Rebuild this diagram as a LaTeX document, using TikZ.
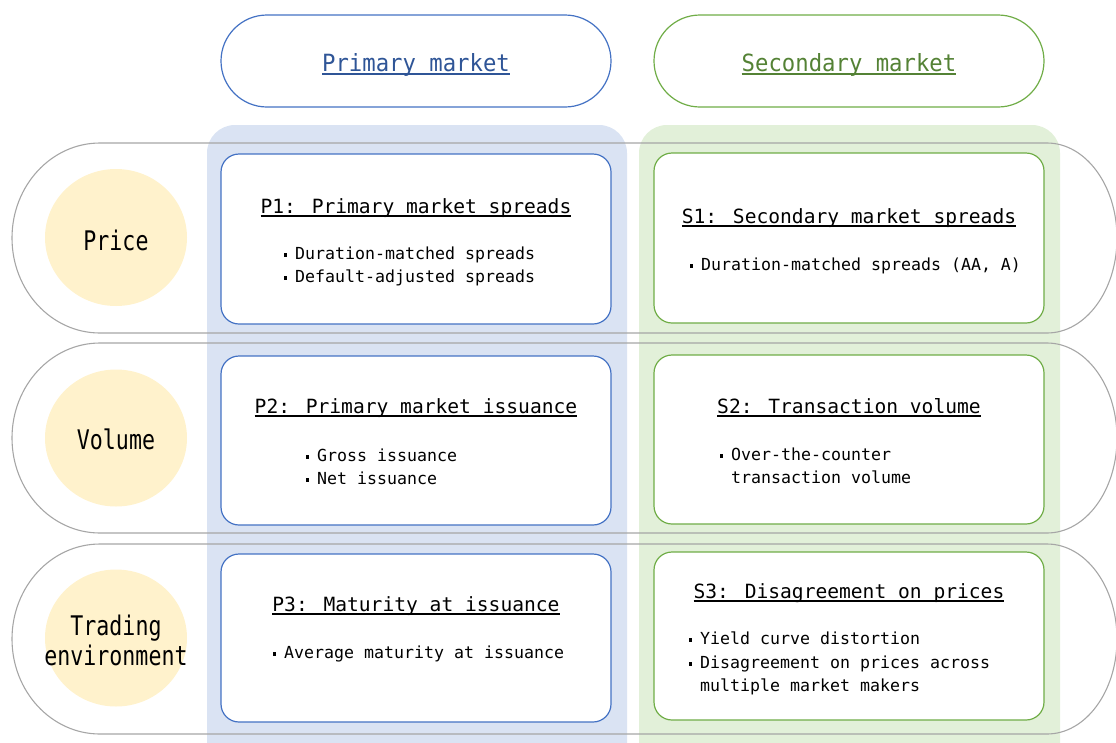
\documentclass[tikz,border=0pt]{standalone}
\usepackage{fontspec}
\usetikzlibrary{shapes.geometric}
\newfontfamily\mono{DejaVu Sans Mono}
\newfontfamily\monohdr[FakeStretch=0.94]{DejaVu Sans Mono}
\newfontfamily\monocat[FakeStretch=0.8]{DejaVu Sans Mono}
\definecolor{pblue}{HTML}{4472C4}
\definecolor{pbluetxt}{HTML}{2F5597}
\definecolor{pbluebg}{HTML}{DAE3F3}
\definecolor{sgreen}{HTML}{70AD47}
\definecolor{sgreentxt}{HTML}{548235}
\definecolor{sgreenbg}{HTML}{E2F0D9}
\definecolor{circfill}{HTML}{FFF2CC}
\definecolor{pillgray}{HTML}{A6A6A6}
% underline drawn at a fixed depth, crossing the descenders
\newcommand\ulin[1]{\setbox0=\hbox{#1}\rlap{\rule[-0.18em]{\wd0}{0.095em}}\box0}
% square bullet centred in a double-width cell
\newcommand\bul{\makebox[1.204em][c]{\rule[0.145em]{0.2em}{0.2em}}}
\newcommand\contind{\hspace*{1.204em}}
\begin{document}
\begin{tikzpicture}[x=1pt,y=-1pt,
  hdrpill/.style={draw, line width=1.2pt, fill=white, rounded corners=46pt,
    minimum width=390pt, minimum height=92pt, inner sep=0pt},
  pillline/.style={draw=pillgray, line width=1.1pt},
  catcirc/.style={ellipse, fill=circfill, minimum width=142pt, minimum height=137pt, inner sep=0pt},
  itembox/.style={draw, line width=1.2pt, fill=white, rounded corners=18pt,
    minimum width=390pt, inner sep=0pt},
  hdrtxt/.style={anchor=base, inner sep=0pt, font=\monohdr\fontsize{23.7}{28}\selectfont},
  cattxt/.style={anchor=base, inner sep=0pt, font=\monocat\fontsize{27}{30}\selectfont},
  ttltxt/.style={anchor=base, inner sep=0pt, font=\mono\fontsize{19.6}{24}\selectfont},
  bodytxt/.style={anchor=base west, inner sep=0pt, font=\mono\fontsize{16.6}{23}\selectfont},
]
\useasboundingbox (0,0) rectangle (1116,742);
\clip (0,0) rectangle (1116,742);

% column backgrounds
\fill[pbluebg, rounded corners=28pt] (207,125) rectangle (627,790);
\fill[sgreenbg, rounded corners=28pt] (639,125) rectangle (1060,790);

% row outlines (open at the far right edge)
\foreach \t/\b in {143/333, 343/533, 544/734}
  \draw[pillline] (100,\t) -- (1047,\t)
    arc[start angle=90, end angle=-90, x radius=70pt, y radius=95pt]
    -- (100,\b)
    arc[start angle=270, end angle=90, x radius=88pt, y radius=95pt] -- cycle;

% category circles
\node[catcirc] (cprice) at (116,237.5) {};
\node[catcirc] (cvol) at (116,438) {};
\node[catcirc] (ctrade) at (116,638) {};
\node[cattxt] (lprice) at (116,250) {Price};
\node[cattxt] (lvol) at (116,449) {Volume};
\node[cattxt] (ltrade1) at (116,635) {Trading};
\node[cattxt] (ltrade2) at (116,665) {environment};

% column headers
\node[hdrpill, draw=pblue] (hprim) at (416,61) {};
\node[hdrpill, draw=sgreen] (hsec) at (849,61) {};
\node[hdrtxt, text=pbluetxt] (tprim) at (416,71) {\ulin{Primary market}};
\node[hdrtxt, text=sgreentxt] (tsec) at (849,71) {\ulin{Secondary market}};

% primary market boxes
\node[itembox, draw=pblue, minimum height=170pt] (p1) at (416,239) {};
\node[itembox, draw=pblue, minimum height=169pt] (p2) at (416,440.5) {};
\node[itembox, draw=pblue, minimum height=168pt] (p3) at (416,638) {};
% secondary market boxes
\node[itembox, draw=sgreen, minimum height=170pt] (s1) at (849,238) {};
\node[itembox, draw=sgreen, minimum height=169pt] (s2) at (849,439.5) {};
\node[itembox, draw=sgreen, minimum height=168pt] (s3) at (849,636) {};

% P1
\node[ttltxt] (p1t) at (416,213) {\ulin{P1: Primary market spreads}};
\node[bodytxt] (p1a) at (275,259) {\bul Duration-matched spreads};
\node[bodytxt] (p1b) at (275,282) {\bul Default-adjusted spreads};
% S1
\node[ttltxt] (s1t) at (849,223) {\ulin{S1: Secondary market spreads}};
\node[bodytxt] (s1a) at (681,270) {\bul Duration-matched spreads (AA, A)};
% P2
\node[ttltxt] (p2t) at (416,413) {\ulin{P2: Primary market issuance}};
\node[bodytxt] (p2a) at (297,461) {\bul Gross issuance};
\node[bodytxt] (p2b) at (297,484) {\bul Net issuance};
% S2
\node[ttltxt] (s2t) at (849,413) {\ulin{S2: Transaction volume}};
\node[bodytxt] (s2a) at (711,460) {\bul Over-the-counter};
\node[bodytxt] (s2b) at (711,483) {\contind transaction volume};
% P3
\node[ttltxt] (p3t) at (416,611) {\ulin{P3: Maturity at issuance}};
\node[bodytxt] (p3a) at (264,658) {\bul Average maturity at issuance};
% S3
\node[ttltxt] (s3t) at (849,598) {\ulin{S3: Disagreement on prices}};
\node[bodytxt] (s3a) at (680,644) {\bul Yield curve distortion};
\node[bodytxt] (s3b) at (680,668) {\bul Disagreement on prices across};
\node[bodytxt] (s3c) at (680,691) {\contind multiple market makers};
\end{tikzpicture}
\end{document}
